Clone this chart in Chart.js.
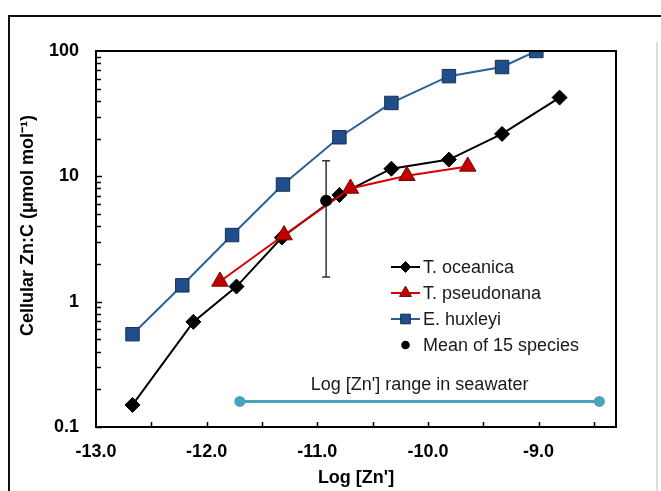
<!DOCTYPE html>
<html>
<head>
<meta charset="utf-8">
<script src="https://cdn.jsdelivr.net/npm/chart.js@4/dist/chart.umd.min.js"></script>
<style>
  html, body { margin: 0; padding: 0; background: #fff; }
  #wrap { position: relative; width: 661px; height: 491px; overflow: hidden; }
  #frame { position: absolute; left: 8px; top: 15px; width: 700px; height: 600px;
           border-left: 2px solid #111; border-top: 2px solid #111; }
  #edge { position: absolute; left: 656px; top: 42px; width: 2px; height: 460px; background: #dcdcdc; }
  canvas { position: absolute; left: 0; top: 0; }
</style>
</head>
<body>
<div id="wrap">
  <div id="frame"></div>
  <div id="edge"></div>
  <canvas id="chart" width="661" height="491"></canvas>
</div>
<script>
// values
const oceanicaX = [-12.67, -12.12, -11.73, -11.32, -10.80, -10.33, -9.81, -9.33, -8.81];
const oceanicaY = [0.15, 0.69, 1.32, 3.25, 7.1, 11.5, 13.6, 21.8, 42.5];

const pseudonanaX = [-11.88, -11.30, -10.70, -10.19, -9.64];
const pseudonanaY = [1.45, 3.4, 8.0, 10.1, 12.0];

const huxleyiX = [-12.67, -12.22, -11.77, -11.31, -10.80, -10.33, -9.81, -9.33, -9.02];
const huxleyiY = [0.55, 1.35, 3.4, 8.6, 20.5, 38.5, 63, 74.5, 100];

const meanX = [-10.92];
const meanY = [6.4];
const meanLow = [1.57];
const meanHigh = [13.3];

const seaX = [-11.7, -8.45];
const seaY = [0.16, 0.16];
const seaLabel = "Log [Zn'] range in seawater";

const seriesNames = ["T. oceanica", "T. pseudonana", "E. huxleyi", "Mean of 15 species"];
const xTickVals = [-13, -12, -11, -10, -9];
const yTickVals = [0.1, 1, 10, 100];

const FONT = '"Liberation Sans", Arial, sans-serif';

function pts(xs, ys) {
  return xs.map((v, i) => ({ x: v, y: ys[i] }));
}

const datasets = [
  {
    label: seriesNames[0], data: pts(oceanicaX, oceanicaY), showLine: true,
    borderColor: '#000', borderWidth: 2, pointStyle: 'rectRot', pointRadius: 7.5,
    pointBackgroundColor: '#000', pointBorderColor: '#000', pointBorderWidth: 1, order: 3
  },
  {
    label: seriesNames[1], data: pts(pseudonanaX, pseudonanaY), showLine: true,
    borderColor: '#d90000', borderWidth: 2, pointStyle: 'triangle', pointRadius: 9.5,
    pointBackgroundColor: '#c00000', pointBorderColor: '#7a0000', pointBorderWidth: 1, order: 2
  },
  {
    label: seriesNames[2], data: pts(huxleyiX, huxleyiY), showLine: true,
    borderColor: '#2f5f9b', borderWidth: 2, pointStyle: 'rect', pointRadius: 9.5,
    pointBackgroundColor: '#1f4e8c', pointBorderColor: '#1a2f4f', pointBorderWidth: 1, order: 4
  },
  {
    label: seriesNames[3], data: pts(meanX, meanY), showLine: false,
    pointStyle: 'circle', pointRadius: 6, pointBackgroundColor: '#000',
    pointBorderColor: '#000', pointBorderWidth: 0, order: 1
  },
  {
    label: 'seawater', data: pts(seaX, seaY), showLine: true,
    borderColor: '#4ba3ba', borderWidth: 3, pointStyle: 'circle', pointRadius: 5.5,
    pointBackgroundColor: '#4ba3ba', pointBorderColor: '#4ba3ba', pointBorderWidth: 0, order: 5
  }
];

const extras = {
  id: 'extras',
  beforeDatasetsDraw(chart) {
    const { ctx, scales: { x, y } } = chart;
    ctx.save();
    // error bar on the mean
    ctx.strokeStyle = '#333';
    ctx.lineWidth = 1.5;
    meanX.forEach((v, i) => {
      const px = x.getPixelForValue(v);
      const top = y.getPixelForValue(meanHigh[i]);
      const bot = y.getPixelForValue(meanLow[i]);
      ctx.beginPath();
      ctx.moveTo(px, top); ctx.lineTo(px, bot);
      ctx.moveTo(px - 4, top); ctx.lineTo(px + 4, top);
      ctx.moveTo(px - 4, bot); ctx.lineTo(px + 4, bot);
      ctx.stroke();
    });
    // seawater label
    ctx.fillStyle = '#1a1a1a';
    ctx.font = '18px ' + FONT;
    ctx.textAlign = 'center';
    ctx.textBaseline = 'middle';
    const sx = (x.getPixelForValue(seaX[0]) + x.getPixelForValue(seaX[1])) / 2;
    ctx.fillText(seaLabel, sx, y.getPixelForValue(seaY[0]) - 16);
    ctx.restore();
  },
  afterDatasetsDraw(chart) {
    const { ctx, chartArea: a, scales: { x, y } } = chart;
    ctx.save();
    ctx.strokeStyle = '#000';
    ctx.lineWidth = 2;
    ctx.strokeRect(a.left, a.top, a.right - a.left, a.bottom - a.top);

    // inward tick marks
    ctx.lineWidth = 1.5;
    ctx.beginPath();
    for (let d = -1; d < 2; d++) {
      for (let m = 1; m < 10; m++) {
        const py = Math.round(y.getPixelForValue(m * Math.pow(10, d))) + 0.5;
        const len = m === 1 ? 6 : 5;
        ctx.moveTo(a.left, py); ctx.lineTo(a.left + len, py);
      }
    }
    for (let v = -12.5; v < -8.3; v += 0.5) {
      const px = Math.round(x.getPixelForValue(v)) + 0.5;
      ctx.moveTo(px, a.bottom); ctx.lineTo(px, a.bottom - 5);
    }
    ctx.stroke();

    // legend inside the plot
    const lx = 391, tx = 423, rowY = [267, 293, 319, 345];
    ctx.font = '18px ' + FONT;
    ctx.textAlign = 'left';
    ctx.textBaseline = 'middle';
    datasets.slice(0, 4).forEach((ds, i) => {
      const yy = rowY[i];
      if (ds.showLine) {
        ctx.strokeStyle = ds.borderColor;
        ctx.lineWidth = ds.borderWidth;
        ctx.beginPath();
        ctx.moveTo(lx, yy); ctx.lineTo(lx + 29, yy);
        ctx.stroke();
      }
      ctx.fillStyle = ds.pointBackgroundColor;
      ctx.strokeStyle = ds.pointBorderColor;
      ctx.lineWidth = ds.pointBorderWidth;
      Chart.helpers.drawPoint(ctx, {
        pointStyle: ds.pointStyle, radius: ds.pointRadius * 0.72,
        rotation: 0, borderWidth: ds.pointBorderWidth
      }, lx + 14.5, yy);
      ctx.fillStyle = '#1a1a1a';
      ctx.fillText(ds.label, tx, yy + 1);
    });
    ctx.restore();
  }
};

new Chart(document.getElementById('chart'), {
  type: 'scatter',
  data: { datasets: datasets },
  options: {
    responsive: false,
    animation: false,
    layout: { padding: { left: 0, top: 51, right: 45, bottom: 0 } },
    plugins: { legend: { display: false }, tooltip: { enabled: false } },
    elements: { line: { tension: 0 } },
    scales: {
      x: {
        type: 'linear', min: -13, max: -8.3,
        grid: { display: false, drawTicks: false },
        border: { display: false },
        afterBuildTicks: (s) => { s.ticks = xTickVals.map(v => ({ value: v })); },
        afterFit: (s) => { s.height = 64; },
        ticks: {
          color: '#000', padding: 14, maxRotation: 0, autoSkip: false,
          font: { family: FONT, size: 18, weight: 'bold' },
          callback: (v) => Number(v).toFixed(1)
        },
        title: {
          display: true, text: "Log [Zn']", color: '#000',
          font: { family: FONT, size: 18, weight: 'bold' },
          padding: { top: 0, bottom: 2 }
        }
      },
      y: {
        type: 'logarithmic', min: 0.1, max: 100,
        grid: { display: false, drawTicks: false },
        border: { display: false },
        afterBuildTicks: (s) => { s.ticks = yTickVals.map(v => ({ value: v })); },
        afterFit: (s) => { s.width = 96; },
        ticks: {
          color: '#000', padding: 17, autoSkip: false,
          font: { family: FONT, size: 18, weight: 'bold' },
          callback: (v) => String(v)
        },
        title: {
          display: true, text: '\u2002\u2002\u2002Cellular Zn:C (\u03bcmol mol\u207b\u00b9)', color: '#000',
          font: { family: FONT, size: 18, weight: 'bold' },
          padding: { top: 17, bottom: 0 }
        }
      }
    }
  },
  plugins: [extras]
});
</script>
</body>
</html>
